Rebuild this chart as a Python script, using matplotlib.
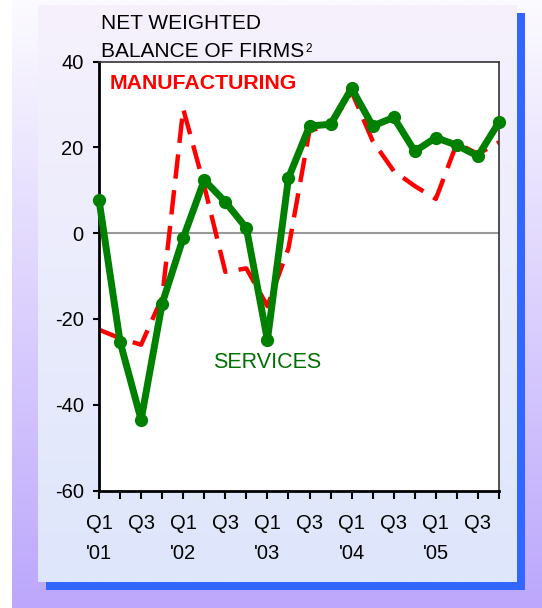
import matplotlib.pyplot as plt
import numpy as np
from matplotlib.patches import Rectangle
from matplotlib.colors import LinearSegmentedColormap

plt.rcParams['font.family'] = ['Liberation Sans', 'DejaVu Sans']

# quarters 2001 Q1 .. 2005 Q4
quarters = ['2001Q1', '2001Q2', '2001Q3', '2001Q4',
            '2002Q1', '2002Q2', '2002Q3', '2002Q4',
            '2003Q1', '2003Q2', '2003Q3', '2003Q4',
            '2004Q1', '2004Q2', '2004Q3', '2004Q4',
            '2005Q1', '2005Q2', '2005Q3', '2005Q4']
tick_labels = ["Q1\n'01", '', 'Q3', '', "Q1\n'02", '', 'Q3', '',
               "Q1\n'03", '', 'Q3', '', "Q1\n'04", '', 'Q3', '',
               "Q1\n'05", '', 'Q3', '']
services = [7.8, -25.3, -43.5, -16.4, -1.1, 12.4, 7.3, 1.2, -24.9, 12.9,
            25.0, 25.4, 33.8, 25.0, 27.0, 19.1, 22.3, 20.5, 18.0, 25.9]
manufacturing = [-22.5, -24.5, -26.0, -15.0, 29.0, 11.0, -9.0, -8.2, -17.0, -3.5,
                 24.0, 25.0, 33.0, 21.5, 14.5, 11.0, 8.0, 21.0, 18.5, 21.2]
y_ticks = [-60, -40, -20, 0, 20, 40]

W, H = 542, 608


def fx(x):
    return x / W


def fy(y):
    return 1 - y / H


fig = plt.figure(figsize=(W / 100, H / 100), dpi=100)

# slide background
bg = fig.add_axes([0, 0, 1, 1], zorder=-10)
bg.axis('off')
grad = np.linspace(0, 1, 256).reshape(-1, 1)
outer_cmap = LinearSegmentedColormap.from_list('outer', ['#bca7fc', '#fcfbff'])
bg.imshow(grad, extent=[fx(12), 1, 0, 1], aspect='auto', cmap=outer_cmap,
          origin='lower', zorder=0)
# shadow
bg.add_patch(Rectangle((fx(46), fy(590)), fx(525) - fx(46), fy(13) - fy(590),
                       facecolor='#3366ff', edgecolor='none', zorder=1))
# panel
panel_cmap = LinearSegmentedColormap.from_list('panel', ['#dee6fb', '#f6f1fd'])
bg.imshow(grad, extent=[fx(38), fx(517), fy(582), fy(5)], aspect='auto',
          cmap=panel_cmap, origin='lower', zorder=2)
bg.set_xlim(0, 1)
bg.set_ylim(0, 1)

ax = fig.add_axes([fx(99), fy(490.5), fx(499) - fx(99), fy(61.7) - fy(490.5)])
ax.set_facecolor('white')
x = np.arange(len(quarters))

ax.axhline(0, color='#999999', lw=1.5, zorder=1)
ax.plot(x, manufacturing, color='#ff0000', lw=3.2, dashes=(5.5, 2.6), zorder=2)
ax.plot(x, services, color='#008000', lw=5, marker='o', markersize=8.5,
        zorder=3, clip_on=False)

ax.set_xlim(0, 19)
ax.set_ylim(-60, 40)
ax.set_xticks(x)
ax.set_xticklabels(tick_labels, fontsize=14.5, linespacing=1.75)
ax.set_yticks(y_ticks)
ax.set_yticklabels([str(v) for v in y_ticks], fontsize=14.5)
ax.tick_params(axis='x', direction='out', length=6, width=1.5, pad=11)
ax.tick_params(axis='y', direction='out', length=4, width=1.5, pad=7)
for side in ['left', 'bottom']:
    ax.spines[side].set_linewidth(2)
for side in ['top', 'right']:
    ax.spines[side].set_linewidth(1.2)
    ax.spines[side].set_color('#333333')

fig.text(fx(101), fy(29.4), 'NET WEIGHTED', fontsize=15, va='baseline')
fig.text(fx(101), fy(57), 'BALANCE OF FIRMS', fontsize=15, va='baseline')
fig.text(fx(305), fy(51.5), '2', fontsize=8.5, va='baseline')
fig.text(fx(110), fy(89.3), 'MANUFACTURING', fontsize=15.3, fontweight='bold',
         color='#ff0000', va='baseline')
fig.text(fx(212.7), fy(368), 'SERVICES', fontsize=15.5, color='#007000',
         va='baseline')

fig.savefig('out.png', dpi=100)
